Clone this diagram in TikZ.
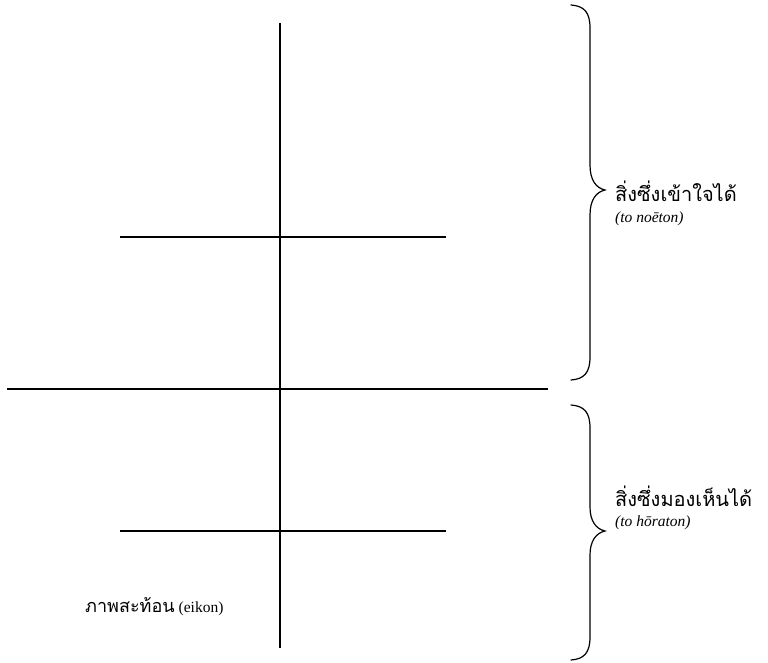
\documentclass[tikz,border=0pt]{standalone}
\usepackage{fontspec}
\setmainfont{Liberation Serif}
\newfontfamily\thaifont[Script=Thai]{Loma}
\begin{document}
\begin{tikzpicture}[x=1pt,y=-1pt,
  ln/.style={line width=1.2pt,black},
  brc/.style={line width=1.2pt,black,line cap=round},
  thai/.style={anchor=west,inner sep=0pt,font=\thaifont\fontsize{20}{22}\selectfont},
  lat/.style={anchor=west,inner sep=0pt,font=\fontsize{15.5}{17}\selectfont\itshape}]
\useasboundingbox (0,0) rectangle (768,662);
% lines
\coordinate (vt) at (280,23);
\coordinate (vb) at (280,648);
\coordinate (h1l) at (120,237);
\coordinate (h1r) at (446,237);
\coordinate (h2l) at (7,389);
\coordinate (h2r) at (548,389);
\coordinate (h3l) at (120,531);
\coordinate (h3r) at (446,531);
\draw[ln] (vt) -- (vb);
\draw[ln] (h1l) -- (h1r);
\draw[ln] (h2l) -- (h2r);
\draw[ln] (h3l) -- (h3r);
% top brace
\coordinate (b1t) at (571,5);
\coordinate (b1m) at (605,190);
\coordinate (b1b) at (571,380);
\draw[brc] (b1t) .. controls (584,6) and (590,12) .. (590,28)
  -- (590,165) .. controls (590,180) and (596,188) .. (b1m)
  .. controls (596,192) and (590,200) .. (590,215)
  -- (590,357) .. controls (590,373) and (584,379) .. (b1b);
% bottom brace
\coordinate (b2t) at (571,405);
\coordinate (b2m) at (605,531);
\coordinate (b2b) at (571,660);
\draw[brc] (b2t) .. controls (584,406) and (590,412) .. (590,428)
  -- (590,507) .. controls (590,521) and (596,529) .. (b2m)
  .. controls (596,533) and (590,541) .. (590,555)
  -- (590,637) .. controls (590,653) and (584,659) .. (b2b);
% labels
\node[thai] (t1) at (615,191) {สิ่งซึ่งเข้าใจได้};
\node[lat] (l1) at (615,219) {(to noēton)};
\node[thai] (t2) at (615,496) {สิ่งซึ่งมองเห็นได้};
\node[lat] (l2) at (615,523) {(to hōraton)};
\node[anchor=west,inner sep=0pt] (eik) at (85,607)
  {{\thaifont\fontsize{18}{20}\selectfont ภาพสะท้อน}\hspace{4pt}{\fontsize{15.5}{17}\selectfont (eikon)}};
\end{tikzpicture}
\end{document}
